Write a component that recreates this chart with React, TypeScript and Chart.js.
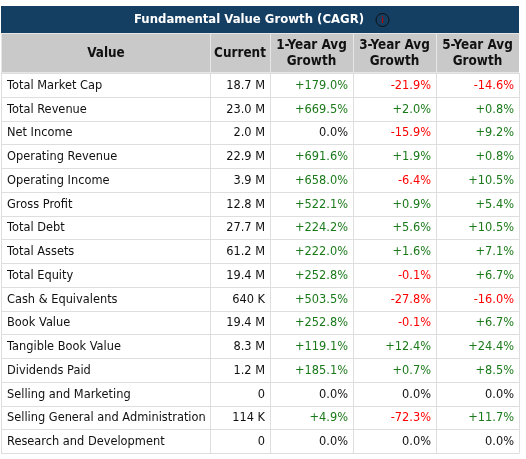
import React, { useEffect, useRef } from "react";
import { Chart, registerables } from "chart.js";

Chart.register(...registerables);

const title = "Fundamental Value Growth (CAGR)";
const headers = ["Value", "Current", "1-Year Avg\nGrowth", "3-Year Avg\nGrowth", "5-Year Avg\nGrowth"];
const metrics = [
  "Total Market Cap", "Total Revenue", "Net Income", "Operating Revenue", "Operating Income",
  "Gross Profit", "Total Debt", "Total Assets", "Total Equity", "Cash & Equivalents",
  "Book Value", "Tangible Book Value", "Dividends Paid", "Selling and Marketing",
  "Selling General and Administration", "Research and Development",
];
const current = [
  "18.7 M", "23.0 M", "2.0 M", "22.9 M", "3.9 M", "12.8 M", "27.7 M", "61.2 M",
  "19.4 M", "640 K", "19.4 M", "8.3 M", "1.2 M", "0", "114 K", "0",
];
const growth1y = [179.0, 669.5, 0.0, 691.6, 658.0, 522.1, 224.2, 222.0, 252.8, 503.5, 252.8, 119.1, 185.1, 0.0, 4.9, 0.0];
const growth3y = [-21.9, 2.0, -15.9, 1.9, -6.4, 0.9, 5.6, 1.6, -0.1, -27.8, -0.1, 12.4, 0.7, 0.0, -72.3, 0.0];
const growth5y = [-14.6, 0.8, 9.2, 0.8, 10.5, 5.4, 10.5, 7.1, 6.7, -16.0, 6.7, 24.4, 8.5, 0.0, 11.7, 0.0];

const HFONT = "'DejaVu Sans Condensed', 'DejaVu Sans', sans-serif";
const BFONT = "'DejaVu Sans', sans-serif";
const COL_W = [208, 60, 83, 83, 83];
const NAVY = "#143e62";
const HEADER_BG = "#c9c9c9";
const GRID = "#dedede";
const GREEN = "#1a7a1a";
const RED = "#ff0000";

function fmt(v: number) {
  if (v > 0) return "+" + v.toFixed(1) + "%";
  if (v < 0) return v.toFixed(1) + "%";
  return "0.0%";
}
function color(v: number) {
  return v > 0 ? GREEN : v < 0 ? RED : "#111";
}

const tablePlugin = {
  id: "tablePlugin",
  afterDraw(chart: any) {
    const ctx = chart.ctx as CanvasRenderingContext2D;
    const area = chart.chartArea;
    const y = chart.scales.y;
    const left = area.left;
    const right = area.right;
    const colX: number[] = [left];
    COL_W.forEach((w, i) => colX.push(colX[i] + w));
    colX[colX.length - 1] = right;
    const rowH = Math.abs(y.getPixelForValue(1) - y.getPixelForValue(0));
    const titleTop = 6;
    const headTop = 34;
    const headBottom = area.top;

    ctx.save();
    // title bar
    ctx.fillStyle = NAVY;
    ctx.fillRect(left - 1, titleTop, right - left + 1, headTop - titleTop - 1);
    ctx.font = `bold 13px ${HFONT}`;
    ctx.fillStyle = "#fff";
    ctx.textAlign = "center";
    ctx.textBaseline = "middle";
    const midTitle = (titleTop + headTop) / 2;
    ctx.fillText(title, 249, midTitle);
    // info icon
    ctx.beginPath();
    ctx.arc(382.5, midTitle, 6.5, 0, Math.PI * 2);
    ctx.strokeStyle = "#111";
    ctx.lineWidth = 1;
    ctx.stroke();
    ctx.fillStyle = "#b00";
    ctx.font = `bold 8px ${HFONT}`;
    ctx.fillText("i", 382.5, midTitle + 0.5);

    // header row
    ctx.fillStyle = "#e6e6e6";
    ctx.fillRect(left - 1, headTop - 1, right - left + 1, headBottom - headTop + 1);
    ctx.fillStyle = HEADER_BG;
    for (let c = 0; c < 5; c++) {
      ctx.fillRect(colX[c] + (c === 0 ? 0 : 1), headTop, colX[c + 1] - colX[c] - (c === 0 ? 0 : 1), headBottom - headTop - 1);
    }
    ctx.fillStyle = "#111";
    ctx.font = `bold 13.4px ${HFONT}`;
    headers.forEach((h, c) => {
      const cx = (colX[c] + colX[c + 1]) / 2;
      const lines = h.split("\n");
      const mid = (headTop + headBottom) / 2;
      lines.forEach((ln, k) => {
        ctx.fillText(ln, cx, mid + (k - (lines.length - 1) / 2) * 16);
      });
    });

    // body grid
    ctx.strokeStyle = GRID;
    ctx.lineWidth = 1;
    ctx.beginPath();
    for (let r = 0; r <= metrics.length; r++) {
      const yy = Math.round(y.getPixelForValue(r) - rowH / 2) + 0.5;
      ctx.moveTo(left - 1, yy);
      ctx.lineTo(right, yy);
    }
    colX.forEach((x, i) => {
      const xx = Math.round(x) + (i === 0 ? -0.5 : 0.5);
      ctx.moveTo(xx, headBottom);
      ctx.lineTo(xx, Math.round(y.getPixelForValue(metrics.length - 1) + rowH / 2) + 0.5);
    });
    ctx.stroke();

    // body text
    ctx.font = `11.4px ${BFONT}`;
    metrics.forEach((m, r) => {
      const cy = y.getPixelForValue(r) + 1;
      ctx.textAlign = "left";
      ctx.fillStyle = "#111";
      ctx.fillText(m, colX[0] + 5, cy);
      ctx.textAlign = "right";
      ctx.fillText(current[r], colX[2] - 5, cy);
      [growth1y, growth3y, growth5y].forEach((arr, k) => {
        ctx.fillStyle = color(arr[r]);
        ctx.fillText(fmt(arr[r]), colX[3 + k] - 5, cy);
      });
    });
    ctx.restore();
  },
};

export default function App() {
  const ref = useRef<HTMLCanvasElement>(null);
  useEffect(() => {
    document.body.style.margin = "0";
    const chart = new Chart(ref.current!, {
      type: "scatter",
      data: { labels: metrics, datasets: [{ data: [], pointRadius: 0 }] },
      options: {
        animation: false,
        responsive: false,
        layout: { padding: { top: 73, left: 2, right: 7, bottom: 6 } },
        plugins: { legend: { display: false }, tooltip: { enabled: false } },
        scales: {
          x: { type: "linear", min: 0, max: 1, display: false },
          y: { type: "category", labels: metrics, offset: true, display: false },
        },
      },
      plugins: [tablePlugin],
    });
    return () => chart.destroy();
  }, []);
  return <canvas ref={ref} width={526} height={459} style={{ display: "block", background: "#fff" }} />;
}
